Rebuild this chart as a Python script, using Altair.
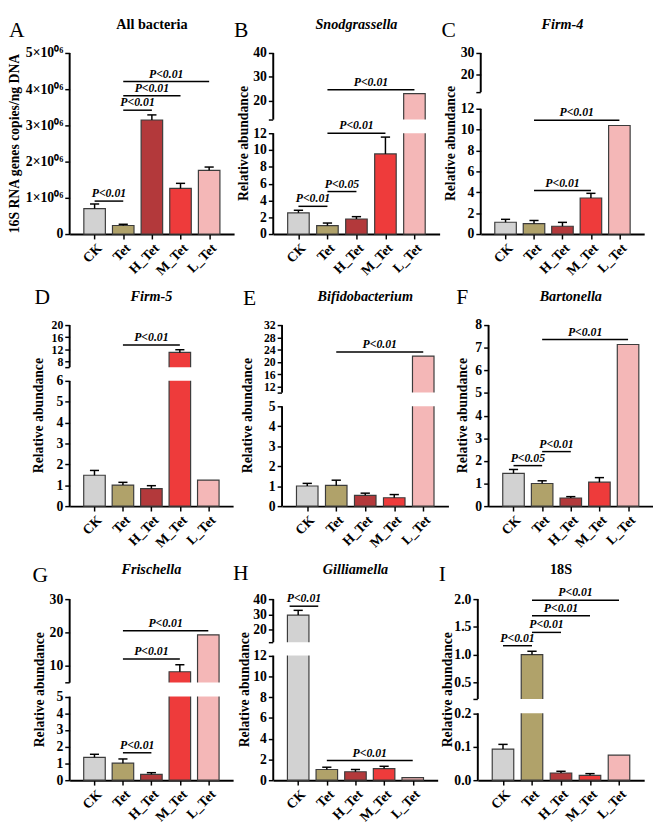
import json
import altair as alt
import pandas as pd

FONT = "Liberation Serif"
H = 185

groups = ["CK", "Tet", "H_Tet", "M_Tet", "L_Tet"]
positions = [0, 1, 2, 3, 4]
bar_colors = ["#d2d2d2", "#b0a26a", "#b3393b", "#ee3b3b", "#f4b7b7"]

# ---------------- data per panel ----------------
a_mean = [0.70e6, 0.235e6, 3.15e6, 1.26e6, 1.76e6]
a_err = [0.13e6, 0.035e6, 0.14e6, 0.14e6, 0.09e6]
a_from = [0, 1, 1, 1]
a_to = [1, 2, 3, 4]
a_y = [0.91e6, 3.42e6, 3.82e6, 4.21e6]
a_txt = ["P<0.01", "P<0.01", "P<0.01", "P<0.01"]

b_mean = [2.53, 1.01, 1.79, 9.54, 22.9]
b_err = [0.3, 0.3, 0.28, 2.0, 0]
b_from = [0, 1, 1, 1]
b_to = [1, 2, 3, 4]
b_y = [3.3, 5.06, 12.0, 24.5]
b_txt = ["P<0.01", "P<0.05", "P<0.01", "P<0.01"]

c_mean = [1.13, 1.0, 0.75, 3.45, 10.4]
c_err = [0.28, 0.3, 0.37, 0.45, 0]
c_from = [1, 1]
c_to = [3, 4]
c_y = [4.17, 10.9]
c_txt = ["P<0.01", "P<0.01"]

d_mean = [1.48, 1.01, 0.84, 10.9, 1.25]
d_err = [0.23, 0.13, 0.14, 0.9, 0]
d_from = [1]
d_to = [3]
d_y = [13.4]
d_txt = ["P<0.01"]

e_mean = [1.01, 1.04, 0.54, 0.42, 21.9]
e_err = [0.13, 0.26, 0.11, 0.16, 0]
e_from = [1]
e_to = [4]
e_y = [23.2]
e_txt = ["P<0.01"]

f_mean = [1.45, 1.0, 0.36, 1.06, 7.14]
f_err = [0.17, 0.12, 0.06, 0.2, 0]
f_from = [0, 1, 1]
f_to = [1, 2, 4]
f_y = [1.79, 2.41, 7.36]
f_txt = ["P<0.05", "P<0.01", "P<0.01"]

g_mean = [1.37, 1.02, 0.35, 8.25, 19.3]
g_err = [0.18, 0.25, 0.1, 2.1, 0]
g_from = [1, 1, 1]
g_to = [2, 3, 4]
g_y = [1.64, 12.1, 20.5]
g_txt = ["P<0.01", "P<0.01", "P<0.01"]

h_mean = [29.6, 1.03, 0.81, 1.12, 0.25]
h_err = [3.1, 0.22, 0.22, 0.22, 0]
h_from = [-0.3, 1]
h_to = [0.7, 4]
h_y = [35.4, 1.9]
h_txt = ["P<0.01", "P<0.01"]

i_mean = [0.093, 1.0, 0.0216, 0.0146, 0.075]
i_err = [0.014, 0.06, 0.005, 0.005, 0]
i_from = [0, 1, 1, 1]
i_to = [1, 2, 3, 4]
i_y = [1.16, 1.4, 1.70, 1.98]
i_txt = ["P<0.01", "P<0.01", "P<0.01", "P<0.01"]


def int_expr(cap=None):
    if cap is None:
        return "format(datum.value, 'd')"
    return f"datum.value == {cap} ? '' : format(datum.value, 'd')"


specs = [
    dict(letter="A", title="All bacteria", italic=False, ytitle="16S RNA genes copies/ng DNA",
         mean=a_mean, err=a_err, sf=a_from, st=a_to, sy=a_y, stxt=a_txt,
         domain=[0, 5e6], range=[H, 0], ticks=[0, 1e6, 2e6, 3e6, 4e6, 5e6],
         lexpr="datum.value == 0 ? '0' : format(datum.value / 1000000, 'd') + '×10⁰⁶'",
         small=None, gap=None, W=168, L=62, lx=-62, ly=-33, yt=-56, T=33, B=53, ty=-29),
    dict(letter="B", title="Snodgrassella", italic=True, ytitle="Relative abundance",
         mean=b_mean, err=b_err, sf=b_from, st=b_to, sy=b_y, stxt=b_txt,
         domain=[0, 12, 12.0001, 40], range=[H, 82, 68, 0],
         ticks=[0, 2, 4, 6, 8, 10, 12, 12.0001, 20, 30, 40], lexpr=int_expr(12.0001),
         small=None, gap=(12, 12.0001), W=170, L=40, lx=-40, ly=-33, yt=-30, T=33, B=53, ty=-29),
    dict(letter="C", title="Firm-4", italic=True, ytitle="Relative abundance",
         mean=c_mean, err=c_err, sf=c_from, st=c_to, sy=c_y, stxt=c_txt,
         domain=[0, 12, 12.0001, 30], range=[H, 57, 40, 0],
         ticks=[0, 2, 4, 6, 8, 10, 12, 12.0001, 20, 30], lexpr=int_expr(12.0001),
         small=None, gap=(12, 12.0001), W=167, L=42, lx=-40, ly=-33, yt=-30, T=33, B=53, ty=-29),
    dict(letter="D", title="Firm-5", italic=True, ytitle="Relative abundance",
         mean=d_mean, err=d_err, sf=d_from, st=d_to, sy=d_y, stxt=d_txt,
         domain=[0, 6, 6.0001, 20], range=[H, 57, 43, 0],
         ticks=[0, 1, 2, 3, 4, 5, 6, 6.0001, 8, 12, 16, 20], lexpr=int_expr(6.0001),
         small=7, gap=(6, 6.0001), W=167, L=53, lx=-36, ly=-39, yt=-31, T=40, B=57, ty=-29),
    dict(letter="E", title="Bifidobacterium", italic=True, ytitle="Relative abundance",
         mean=e_mean, err=e_err, sf=e_from, st=e_to, sy=e_y, stxt=e_txt,
         domain=[0, 5, 10, 32], range=[H, 83, 69, 0],
         ticks=[0, 1, 2, 3, 4, 5, 10, 12, 16, 20, 24, 28, 32], lexpr=int_expr(10),
         small=6, gap=(5, 10), W=170, L=50, lx=-40, ly=-38, yt=-35, T=40, B=57, ty=-29),
    dict(letter="F", title="Bartonella", italic=True, ytitle="Relative abundance",
         mean=f_mean, err=f_err, sf=f_from, st=f_to, sy=f_y, stxt=f_txt,
         domain=[0, 8], range=[H, 0],
         ticks=[0, 1, 2, 3, 4, 5, 6, 7, 8], lexpr=int_expr(),
         small=None, gap=None, W=168, L=41, lx=-33, ly=-39, yt=-26, T=40, B=57, ty=-29),
    dict(letter="G", title="Frischella", italic=True, ytitle="Relative abundance",
         mean=g_mean, err=g_err, sf=g_from, st=g_to, sy=g_y, stxt=g_txt,
         domain=[0, 5, 5.0001, 30], range=[H, 99.6, 85.3, 0],
         ticks=[0, 1, 2, 3, 4, 5, 5.0001, 10, 20, 30], lexpr=int_expr(5.0001),
         small=None, gap=(5, 5.0001), W=167, L=55, lx=-38, ly=-34, yt=-30, T=38, B=45, ty=-30),
    dict(letter="H", title="Gilliamella", italic=True, ytitle="Relative abundance",
         mean=h_mean, err=h_err, sf=h_from, st=h_to, sy=h_y, stxt=h_txt,
         domain=[0, 12, 12.0001, 40], range=[H, 57.7, 44, 0],
         ticks=[0, 2, 4, 6, 8, 10, 12, 12.0001, 20, 30, 40], lexpr=int_expr(12.0001),
         small=None, gap=(12, 12.0001), W=168, L=41, lx=-41, ly=-37, yt=-29, T=38, B=45, ty=-30),
    dict(letter="I", title="18S", italic=False, ytitle="Relative abundance",
         mean=i_mean, err=i_err, sf=i_from, st=i_to, sy=i_y, stxt=i_txt,
         domain=[0, 0.2, 0.2001, 2.0], range=[H, 116.6, 102, 0],
         ticks=[0, 0.1, 0.2, 0.2001, 0.5, 1.0, 1.5, 2.0],
         lexpr="datum.value == 0.2001 ? '' : format(datum.value, '.1f')",
         small=None, gap=(0.2, 0.2001), W=170, L=41, lx=-40, ly=-36, yt=-30, T=38, B=45, ty=-30),
]

x_label_expr = json.dumps(groups) + "[datum.value]"


def make_panel(s):
    W = s["W"]
    xscale = alt.Scale(domain=[-0.7, 4.7], nice=False, zero=False)
    yscale = alt.Scale(domain=s["domain"], range=s["range"], nice=False, zero=False)
    xaxis = alt.Axis(values=positions, labelExpr=x_label_expr, labelAngle=-45, title=None,
                     tickCount=50, labelFont=FONT, labelFontSize=14, labelFontWeight="bold",
                     labelColor="black", labelOverlap=False, domainColor="black", domainWidth=2,
                     tickColor="black", tickWidth=1.5, tickSize=5, labelPadding=2, grid=False)
    if s["small"] is None:
        ylfs = 14
    else:
        ylfs = {"condition": {"test": f"datum.value > {s['small']}", "value": 12}, "value": 14}
    yaxis = alt.Axis(values=s["ticks"], labelExpr=s["lexpr"], title=None, domain=False,
                     tickCount=50, labelFont=FONT, labelFontSize=ylfs, labelFontWeight="bold",
                     labelColor="black", labelOverlap=False, tickColor="black", tickWidth=1.5,
                     tickSize=5, labelPadding=2, grid=False)

    df = pd.DataFrame({"group": groups, "pos": positions, "mean": s["mean"],
                       "err": s["err"], "base": [0] * 5})
    base = alt.Chart(df)
    bars = base.mark_bar(size=22, stroke="#3c3c3c", strokeWidth=1.2).encode(
        x=alt.X("pos:Q", scale=xscale, axis=xaxis),
        y=alt.Y("mean:Q", scale=yscale, axis=yaxis),
        y2="base:Q",
        color=alt.Color("group:N", scale=alt.Scale(domain=groups, range=bar_colors), legend=None),
    )
    eb = base.transform_filter("datum.err > 0").transform_calculate(
        top="datum.mean + datum.err", xl="datum.pos - 0.16", xr="datum.pos + 0.16")
    err_rule = eb.mark_rule(color="black", strokeWidth=1.5).encode(
        x="pos:Q", y="mean:Q", y2="top:Q")
    err_cap = eb.mark_rule(color="black", strokeWidth=1.5).encode(
        x="xl:Q", x2="xr:Q", y="top:Q")

    layers = [bars, err_rule, err_cap]

    if s["gap"] is not None:
        lo, hi = s["gap"]
        gdf = pd.DataFrame({"lo": [lo], "hi": [hi]})
        gap = alt.Chart(gdf).mark_rect(color="white").encode(
            x=alt.value(0), x2=alt.value(W), y="lo:Q", y2="hi:Q")
        layers.append(gap)
        segs = pd.DataFrame({"y0": [s["domain"][0], s["domain"][2]],
                             "y1": [s["domain"][1], s["domain"][3]]})
    else:
        segs = pd.DataFrame({"y0": [s["domain"][0]], "y1": [s["domain"][-1]]})
    yline = alt.Chart(segs).mark_rule(color="black", strokeWidth=2).encode(
        x=alt.value(0), y="y0:Q", y2="y1:Q")
    layers.append(yline)

    sdf = pd.DataFrame({"x1": s["sf"], "x2": s["st"], "y": s["sy"], "txt": s["stxt"]})
    sbase = alt.Chart(sdf)
    srule = sbase.mark_rule(color="black", strokeWidth=1.5).encode(
        x="x1:Q", x2="x2:Q", y="y:Q")
    stext = sbase.transform_calculate(xm="(datum.x1 + datum.x2) / 2").mark_text(
        font=FONT, fontSize=12, fontWeight="bold", fontStyle="italic",
        baseline="bottom", dy=-1, color="black").encode(
        x="xm:Q", y="y:Q", text="txt:N")
    layers += [srule, stext]

    one = pd.DataFrame({"letter": [s["letter"]], "title": [s["title"]], "yt": [s["ytitle"]]})
    letter = alt.Chart(one).mark_text(font=FONT, fontSize=22, align="left", baseline="top",
                                      color="black").encode(
        x=alt.value(s["lx"]), y=alt.value(s["ly"]), text="letter:N")
    title = alt.Chart(one).mark_text(font=FONT, fontSize=14.5, fontWeight="bold",
                                     fontStyle="italic" if s["italic"] else "normal",
                                     align="center", baseline="middle", color="black").encode(
        x=alt.value(W / 2), y=alt.value(s["ty"]), text="title:N")
    ytitle = alt.Chart(one).mark_text(font=FONT, fontSize=14, fontWeight="bold", angle=270,
                                      align="center", baseline="middle", color="black").encode(
        x=alt.value(s["yt"]), y=alt.value(H / 2), text="yt:N")
    bound_top = alt.Chart(one).mark_rule(opacity=0, strokeWidth=1).encode(
        x=alt.value(-s["L"]), x2=alt.value(W), y=alt.value(-s["T"]))
    bound_bot = alt.Chart(one).mark_rule(opacity=0, strokeWidth=1).encode(
        x=alt.value(-s["L"]), x2=alt.value(W), y=alt.value(H + s["B"]))
    layers += [letter, title, ytitle, bound_top, bound_bot]

    return alt.layer(*layers).properties(width=W, height=H)


panels = [make_panel(s) for s in specs]
rows = [alt.hconcat(*panels[i:i + 3], spacing=0) for i in (0, 3, 6)]
chart = (alt.vconcat(*rows, spacing=0).properties(padding=0)
         .configure_view(stroke=None)
         .configure_axis(labelOverlap=False))

chart.save("out.html", embed_options={"renderer": "svg", "actions": False})
